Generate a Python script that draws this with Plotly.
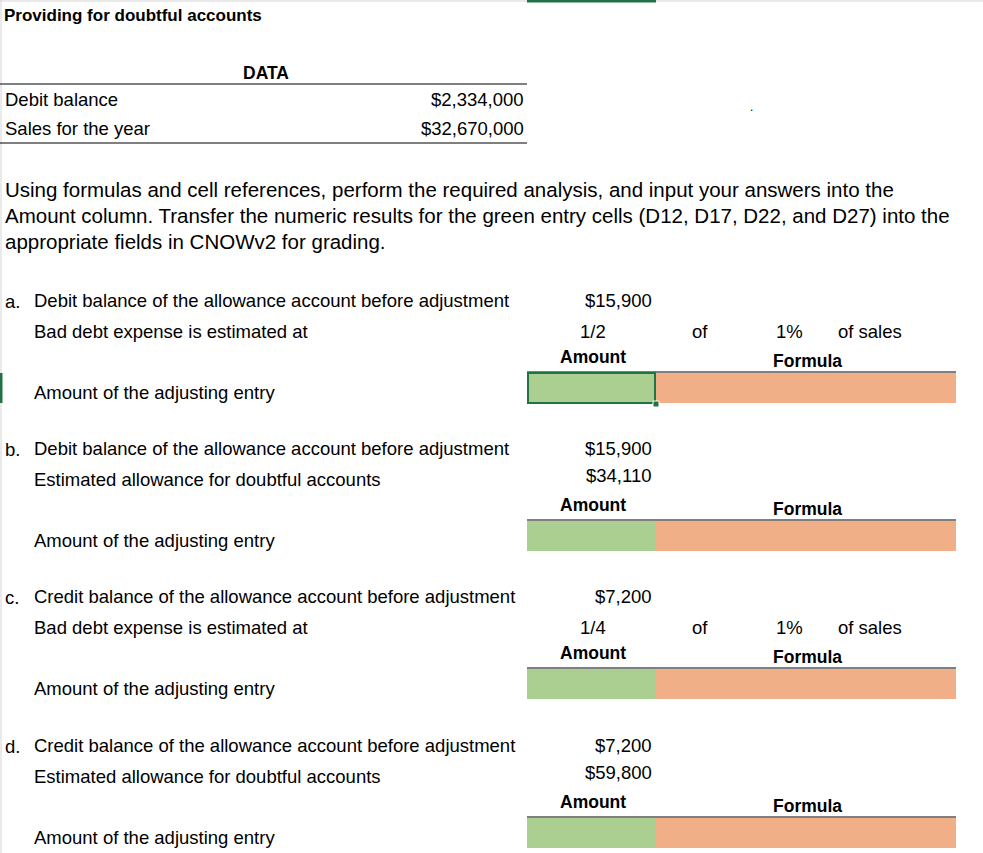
import plotly.graph_objects as go

W, H = 983, 853
FONT = "Liberation Sans, Arial, sans-serif"

title = "Providing for doubtful accounts"
data_header = "DATA"
data_labels = ["Debit balance", "Sales for the year"]
data_values = ["$2,334,000", "$32,670,000"]
instructions = [
    "Using formulas and cell references, perform the required analysis, and input your answers into the",
    "Amount column. Transfer the numeric results for the green entry cells (D12, D17, D22, and D27) into the",
    "appropriate fields in CNOWv2 for grading.",
]

section_letters = ["a.", "b.", "c.", "d."]
first_lines = [
    "Debit balance of the allowance account before adjustment",
    "Debit balance of the allowance account before adjustment",
    "Credit balance of the allowance account before adjustment",
    "Credit balance of the allowance account before adjustment",
]
first_values = ["$15,900", "$15,900", "$7,200", "$7,200"]
second_lines = [
    "Bad debt expense is estimated at",
    "Estimated allowance for doubtful accounts",
    "Bad debt expense is estimated at",
    "Estimated allowance for doubtful accounts",
]
second_values = ["1/2", "$34,110", "1/4", "$59,800"]
second_is_fraction = [True, False, True, False]
rate_text = ["1%", "", "1%", ""]
entry_label = "Amount of the adjusting entry"
amount_header = "Amount"
formula_header = "Formula"

section_tops = [300, 448, 596, 745]

GREEN = "#ABCF91"
ORANGE = "#F0AF87"
SEL = "#217346"
FS = 18.5

fig = go.Figure()
fig.add_trace(go.Scatter(x=[0, W], y=[0, H], mode="markers", marker=dict(opacity=0), hoverinfo="skip", showlegend=False))

ann = []
shapes = []

def text(x, y, s, size=FS, bold=False, align="left", color="#000"):
    ann.append(dict(x=x, y=y, xref="x", yref="y", text=(f"<b>{s}</b>" if bold else s),
                    showarrow=False, xanchor=align, yanchor="middle",
                    font=dict(family=FONT, size=size, color=color)))

def line(x0, y0, x1, y1, color="#000", width=1):
    shapes.append(dict(type="line", xref="x", yref="y", x0=x0, y0=y0, x1=x1, y1=y1,
                       line=dict(color=color, width=width)))

def rect(x0, y0, x1, y1, fill, lc=None, lw=0):
    shapes.append(dict(type="rect", xref="x", yref="y", x0=x0, y0=y0, x1=x1, y1=y1,
                       fillcolor=fill, line=dict(color=lc or fill, width=lw), layer="below"))

# sheet borders
line(0, 1, W, 1, "#D4D4D4", 1)
line(1, 0, 1, H, "#D4D4D4", 1)
line(527, 1, 656, 1, SEL, 3)
line(1, 373, 1, 403, SEL, 3)

# title & data block
text(2, 15, title, 17, bold=True)
text(266, 73, data_header, 17.5, bold=True, align="center")
line(0, 84, 527, 84)
for i, (lab, val) in enumerate(zip(data_labels, data_values)):
    yy = 99 + 29 * i
    text(3, yy, lab)
    text(526, yy, val, align="right")
line(0, 143, 527, 143)
text(751, 107, ".", 12, align="center")

for i, s in enumerate(instructions):
    text(3, 189 + 26 * i, s, 20.5)

for k, top in enumerate(section_tops):
    text(3, top + 1, section_letters[k])
    text(32, top, first_lines[k])
    text(654, top, first_values[k], align="right")
    y2 = top + 31
    text(32, y2, second_lines[k])
    if second_is_fraction[k]:
        text(593, y2, second_values[k], align="center")
        text(700, y2, "of", align="center")
        text(789, y2, rate_text[k], align="center")
        text(836, y2, "of sales")
    else:
        text(654, y2 - 4, second_values[k], align="right")
    text(593, top + 57, amount_header, 17.5, bold=True, align="center")
    text(807, top + 61, formula_header, 17.5, bold=True, align="center")
    line(527, top + 72, 956, top + 72)
    rect(527, top + 73, 656, top + 103, GREEN)
    rect(656, top + 73, 956, top + 103, ORANGE)
    text(32, top + 92, entry_label)

# selection box on first green cell
shapes.append(dict(type="rect", xref="x", yref="y", x0=528, y0=373, x1=655, y1=403,
                   line=dict(color=SEL, width=2), fillcolor="rgba(0,0,0,0)"))
shapes.append(dict(type="rect", xref="x", yref="y", x0=653, y0=401, x1=659, y1=407,
                   line=dict(color="white", width=1), fillcolor=SEL))

fig.update_layout(
    width=W, height=H, margin=dict(l=0, r=0, t=0, b=0),
    paper_bgcolor="white", plot_bgcolor="white",
    xaxis=dict(range=[0, W], visible=False, fixedrange=True),
    yaxis=dict(range=[H, 0], visible=False, fixedrange=True),
    annotations=ann, shapes=shapes, showlegend=False,
)
fig.write_html("out.html", config={"displayModeBar": False},
               post_script="document.body.style.margin='0';document.body.style.overflow='hidden';")
